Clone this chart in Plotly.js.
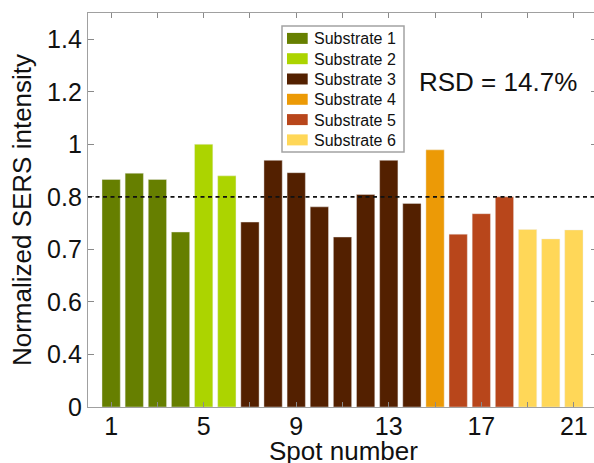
<!DOCTYPE html>
<html>
<head>
<meta charset="utf-8">
<script src="https://cdn.plot.ly/plotly-3.0.1.min.js"></script>
<style>
  html, body { margin: 0; padding: 0; overflow: hidden; background: #fff; }
  #chart { width: 597px; height: 463px; }
</style>
</head>
<body>
<div id="chart"></div>
<script>
// Spot numbers measured on each substrate, with normalized SERS intensities
const substrateNames = ["Substrate 1", "Substrate 2", "Substrate 3", "Substrate 4", "Substrate 5", "Substrate 6"];
const substrateColors = ["#667f00", "#acd400", "#532000", "#ec9a06", "#b8461b", "#ffd758"];

const spots1 = [1, 2, 3, 4];
const intensity1 = [0.866, 0.890, 0.866, 0.666];

const spots2 = [5, 6];
const intensity2 = [1.0, 0.880];

const spots3 = [7, 8, 9, 10, 11, 12, 13, 14];
const intensity3 = [0.704, 0.939, 0.892, 0.762, 0.647, 0.809, 0.939, 0.775];

const spots4 = [15];
const intensity4 = [0.979];

const spots5 = [16, 17, 18];
const intensity5 = [0.658, 0.736, 0.800];

const spots6 = [19, 20, 21];
const intensity6 = [0.676, 0.640, 0.674];

// Axis ticks and their labels
const xTickVals = [1, 3, 5, 7, 9, 11, 13, 15, 17, 19, 21];
const xTickText = ["1", "", "5", "", "9", "", "13", "", "17", "", "21"];
const yTickVals = [0, 0.2, 0.4, 0.6, 0.8, 1.0, 1.2, 1.4];
const yTickText = ["0", "0.4", "0.6", "0.7", "0.8", "1", "1.2", "1.4"];

const xTitle = "Spot number";
const yTitle = "Normalized SERS intensity";
const meanLevel = 0.8;
const rsdText = "RSD = 14.7%";

const allSpots = [spots1, spots2, spots3, spots4, spots5, spots6];
const allIntensity = [intensity1, intensity2, intensity3, intensity4, intensity5, intensity6];

const FONT = "Liberation Sans, Arial, Helvetica, sans-serif";

const traces = allSpots.map((xs, i) => ({
  type: "bar",
  name: substrateNames[i],
  x: xs,
  y: allIntensity[i],
  width: 0.79,
  marker: { color: substrateColors[i], line: { color: "rgba(235,235,235,0.7)", width: 0.6 } },
  hoverinfo: "x+y",
  showlegend: false
}));

// Figure geometry (pixels) used to place the hand-built legend box and x title
const W = 597, H = 463;
const M = { l: 88, r: 0, t: 13, b: 56 };
const plotW = W - M.l - M.r, plotH = H - M.t - M.b;
const px = v => (v - M.l) / plotW;
const py = v => (H - M.b - v) / plotH;

const shapes = [
  {
    type: "line", xref: "paper", yref: "y",
    x0: 0, x1: 1, y0: meanLevel, y1: meanLevel,
    line: { color: "#111", width: 1.6, dash: "4px,3.5px" }, layer: "above"
  },
  {
    type: "rect", xref: "paper", yref: "paper",
    x0: px(282), x1: px(404), y0: py(26), y1: py(152),
    fillcolor: "#fff", line: { color: "#a3a3a3", width: 1.5 }, layer: "above"
  }
];
const annotations = [
  {
    xref: "paper", yref: "paper", x: px(497.5), y: py(82),
    xanchor: "center", yanchor: "middle", showarrow: false,
    text: rsdText, font: { family: FONT, size: 26, color: "#111" }
  },
  {
    // x-axis title sits low, its descender running off the bottom edge
    xref: "paper", yref: "paper", x: px(343), y: py(451.5),
    xanchor: "center", yanchor: "middle", showarrow: false,
    text: xTitle, font: { family: FONT, size: 26, color: "#111" }
  }
];

substrateNames.forEach((name, i) => {
  const cy = 38.4 + i * 20.3;
  shapes.push({
    type: "rect", xref: "paper", yref: "paper",
    x0: px(287), x1: px(307.7), y0: py(cy - 5.5), y1: py(cy + 5.5),
    fillcolor: substrateColors[i], line: { width: 0 }, layer: "above"
  });
  annotations.push({
    xref: "paper", yref: "paper", x: px(312), y: py(cy + 0.5),
    xanchor: "left", yanchor: "middle", showarrow: false,
    text: name, font: { family: FONT, size: 16, color: "#111" }
  });
});

const layout = {
  width: W, height: H,
  margin: M,
  paper_bgcolor: "#fff", plot_bgcolor: "#fff",
  font: { family: FONT, color: "#111" },
  barmode: "overlay",
  showlegend: false,
  xaxis: {
    range: [0, 22],
    tickvals: xTickVals, ticktext: xTickText,
    ticks: "inside", ticklen: 5, tickwidth: 1, tickcolor: "#8a8a8a",
    showline: true, linecolor: "#a0a0a0", linewidth: 1.2, mirror: "ticks",
    showgrid: false, zeroline: false,
    tickfont: { family: FONT, size: 25, color: "#111" },
    ticklabelstandoff: -3
  },
  yaxis: {
    range: [0, 1.5],
    tickvals: yTickVals, ticktext: yTickText,
    ticks: "inside", ticklen: 6, tickwidth: 1, tickcolor: "#8a8a8a",
    showline: true, linecolor: "#a0a0a0", linewidth: 1.2, mirror: "ticks",
    showgrid: false, zeroline: false,
    tickfont: { family: FONT, size: 25, color: "#111" },
    ticklabelstandoff: 0,
    title: { text: yTitle, font: { family: FONT, size: 26, color: "#111" }, standoff: 8 }
  },
  shapes: shapes,
  annotations: annotations
};

Plotly.newPlot("chart", traces, layout, { displayModeBar: false, staticPlot: true });
</script>
</body>
</html>
